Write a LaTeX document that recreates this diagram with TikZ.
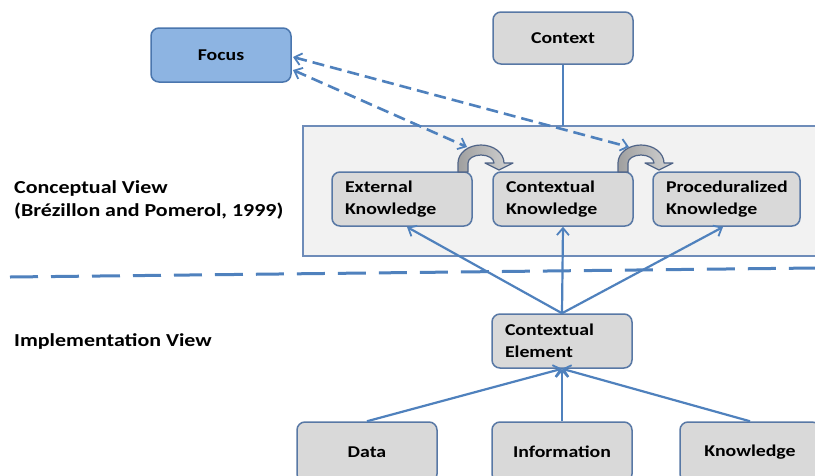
\documentclass[tikz,border=0pt]{standalone}
\usepackage{fontspec}
\setmainfont{Carlito}[FakeStretch=1.2]
\usetikzlibrary{arrows.meta}
\definecolor{lineblue}{RGB}{79,129,189}
\definecolor{boxborder}{RGB}{88,120,165}
\definecolor{boxgray}{RGB}{217,217,217}
\definecolor{focusfill}{RGB}{141,180,226}
\definecolor{focusborder}{RGB}{74,118,174}
\definecolor{panelfill}{RGB}{242,242,242}
\definecolor{panelborder}{RGB}{110,140,185}
\definecolor{curvborder}{RGB}{80,100,135}
\tikzset{
  txt/.style={font=\fontsize{16.5}{22}\selectfont\bfseries},
  ltxt/.style={font=\fontsize{18.3}{23}\selectfont\bfseries},
  box/.style={txt, draw=boxborder, line width=1.5pt, rounded corners=8pt, fill=boxgray,
    minimum width=140pt, minimum height=54pt, inner sep=0pt, align=center},
  lbox/.style={box, align=left, text width=114pt, inner xsep=13pt},
  conn/.style={draw=lineblue, line width=2.2pt},
  tip/.style={-{Straight Barb[length=7pt,width=12pt,line width=1.8pt]}},
  dconn/.style={draw=lineblue, line width=2.6pt, dash pattern=on 12pt off 6pt,
    {Straight Barb[length=7pt,width=12pt,line width=1.8pt]}-{Straight Barb[length=7pt,width=12pt,line width=1.8pt]}},
  curvarr/.pic={
    \draw[curvborder, line width=1.2pt, left color=gray!75, right color=gray!35, line join=round]
      (-23,9) -- (-23,0) arc[start angle=180,end angle=360,x radius=23,y radius=18]
      -- (32,0) -- (18,7) -- (4,0) -- (13,0)
      arc[start angle=360,end angle=180,x radius=13,y radius=8] -- (-13,9) -- cycle;
  }
}
\begin{document}
\begin{tikzpicture}[x=1pt,y=-1pt]
\useasboundingbox (0,0) rectangle (815,475);
\fill[white] (0,0) rectangle (815,475);
% panel
\draw[fill=panelfill, draw=panelborder, line width=1.3pt] (303,126) rectangle (840,256);
% top nodes
\node[box, fill=focusfill, draw=focusborder] (focus) at (221,55) {Focus};
\node[box, minimum height=52pt] (context) at (563,38) {Context};
\coordinate (paneltop) at (563,126);
\draw[conn] (context.south) -- (paneltop);
% knowledge nodes
\node[lbox] (ext) at (402,199) {External\\Knowledge};
\node[lbox] (ctxk) at (563,199) {Contextual\\Knowledge};
\node[lbox, minimum width=147pt, text width=121pt] (proc) at (726.5,199) {Proceduralized\\Knowledge};
% curved arrows
\pic at (481,163) {curvarr};
\pic at (641,163) {curvarr};
% dashed arrows to focus
\coordinate (f1) at (293,57);
\coordinate (f2) at (293,70);
\coordinate (c1) at (629,147);
\coordinate (c2) at (467,147);
\draw[dconn] (f1) -- (c1);
\draw[dconn] (f2) -- (c2);
% separator
\coordinate (sepL) at (10,277);
\coordinate (sepR) at (815,268);
\draw[lineblue, line width=3pt, dash pattern=on 28pt off 13pt] (sepL) -- (sepR);
% labels
\node[ltxt, anchor=base west, inner sep=0pt] (cv) at (14,193) {Conceptual View};
\node[ltxt, anchor=base west, inner sep=0pt] (bp) at (14,216) {(Brézillon and Pomerol, 1999)};
\node[ltxt, anchor=base west, inner sep=0pt] (iv) at (14,346) {Implementation View};
% element
\node[lbox, minimum height=54pt] (elem) at (562,341) {Contextual\\Element};
\coordinate (extin) at (407,227);
\coordinate (procin) at (723,227);
\draw[conn, tip] (elem.north) -- (extin);
\draw[conn, tip] (elem.north) -- (ctxk.south);
\draw[conn, tip] (elem.north) -- (procin);
% bottom nodes
\node[box, minimum height=60pt] (data) at (367,452) {Data};
\node[box, minimum height=60pt] (info) at (562,452) {Information};
\node[box, minimum height=60pt] (know) at (750,452) {Knowledge};
\draw[conn, tip] (data.north) -- (elem.south);
\draw[conn, tip] (info.north) -- (elem.south);
\draw[conn, tip] (know.north) -- (elem.south);
\end{tikzpicture}
\end{document}
